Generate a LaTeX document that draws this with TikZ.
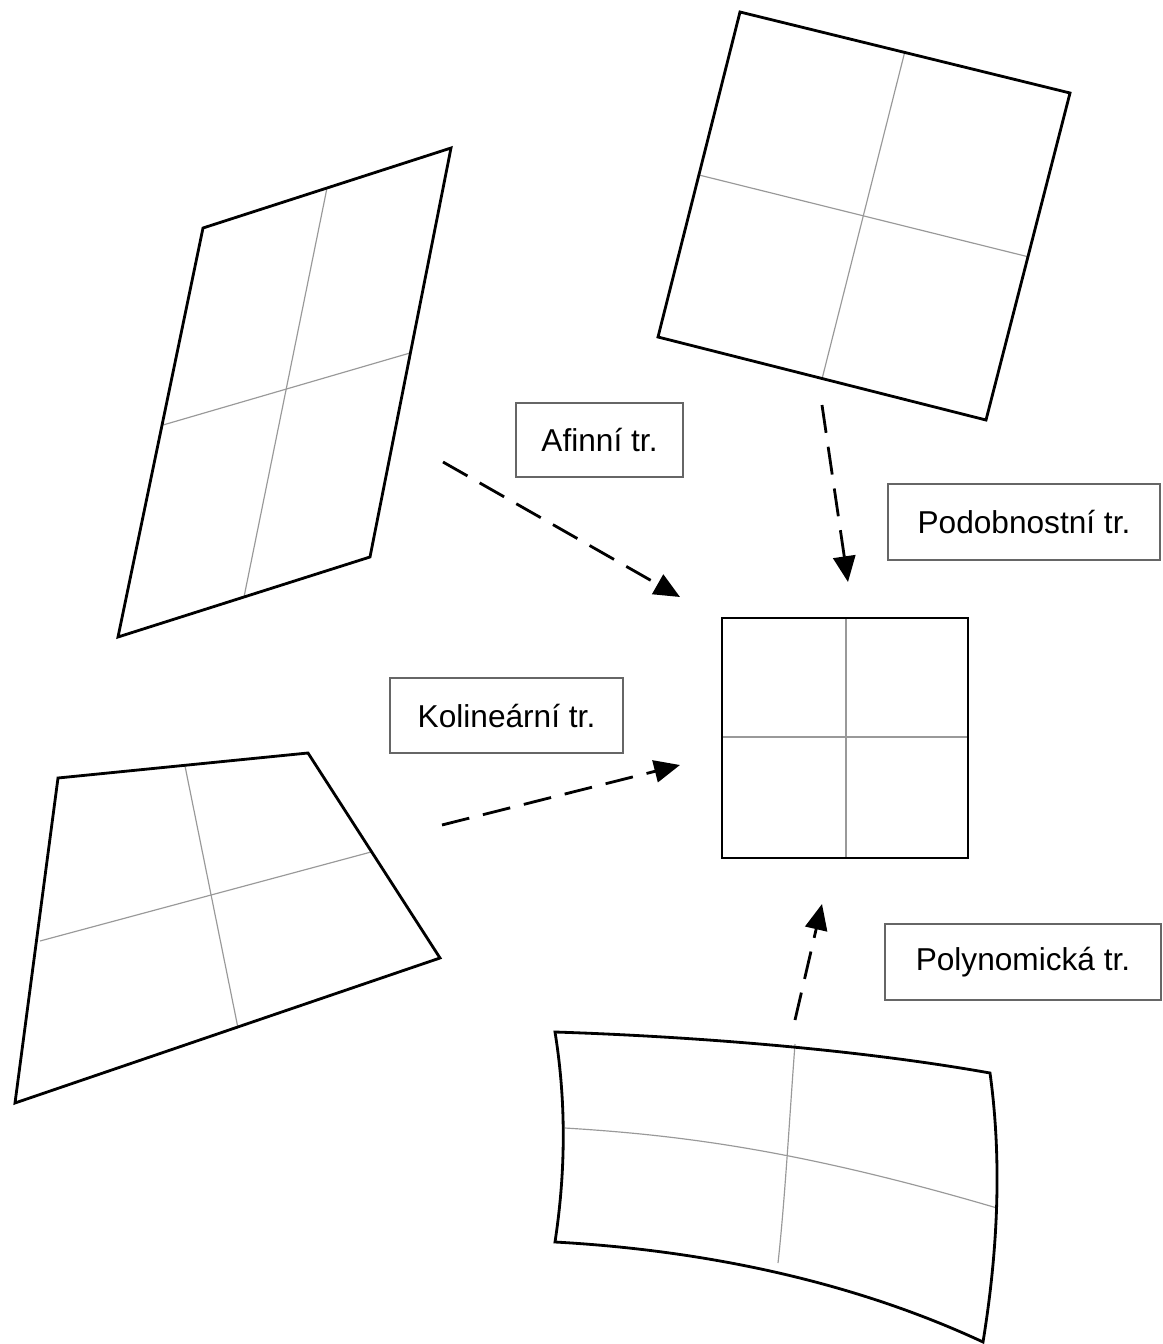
\documentclass[tikz,border=0pt]{standalone}
\usepackage{fontspec}
\setmainfont{Liberation Sans}
\usetikzlibrary{arrows.meta}
\begin{document}
\begin{tikzpicture}[x=0.03cm,y=-0.03cm,
  outer/.style={line width=2.4pt,black,line join=miter},
  inner/.style={line width=1pt,black!40},
  trarrow/.style={line width=2.4pt,dash pattern=on 24pt off 12pt,-{Triangle[length=22pt,width=19pt]}},
  lbl/.style={draw=black!60,line width=2pt,fill=white,font=\fontsize{27}{30}\selectfont,inner sep=0pt,anchor=center}]
\useasboundingbox (0,0) rectangle (1162,1344);
% top-right similarity square
\draw[inner] (905,51) -- (822,379);
\draw[inner] (699,175) -- (1029,257);
\draw[outer] (740,12) -- (1070,93) -- (986,420) -- (658,337) -- cycle;
% left parallelogram (affine)
\draw[inner] (327,188) -- (244,597);
\draw[inner] (163,425) -- (410,353);
\draw[outer] (203,228) -- (451,148) -- (370,557) -- (118,637) -- cycle;
% centre square
\draw[inner] (846,618) -- (846,858);
\draw[inner] (722,737) -- (968,737);
\draw[outer] (722,618) rectangle (968,858);
% bottom-left trapezoid (collinear)
\draw[inner] (185,766) -- (238,1028);
\draw[inner] (40,941) -- (371,852);
\draw[outer] (58,778) -- (308,753) -- (440,958) -- (15,1103) -- cycle;
% bottom polynomial
\draw[inner] (795,1044) .. controls (790,1110) and (785,1200) .. (778,1263);
\draw[inner] (565,1128) .. controls (680,1135) and (800,1150) .. (997,1208);
\draw[outer] (555,1032) .. controls (680,1036) and (850,1048) .. (990,1073)
  .. controls (1002,1160) and (998,1250) .. (983,1342)
  .. controls (850,1280) and (700,1250) .. (555,1242)
  .. controls (566,1170) and (566,1100) .. (555,1032) -- cycle;
% arrow end points
\coordinate (a1) at (443,462); \coordinate (a2) at (680,597);
\coordinate (p1) at (822,405); \coordinate (p2) at (848,582);
\coordinate (k1) at (442,825); \coordinate (k2) at (680,765);
\coordinate (y1) at (795,1020); \coordinate (y2) at (822,904);
\draw[trarrow] (a1) -- (a2);
\draw[trarrow] (p1) -- (p2);
\draw[trarrow] (k1) -- (k2);
\draw[trarrow] (y1) -- (y2);
% labels
\node[lbl,minimum width=167*0.03cm,minimum height=74*0.03cm] (la) at (599.5,440) {Afinní tr.};
\node[lbl,minimum width=272*0.03cm,minimum height=76*0.03cm] (lp) at (1024,522) {Podobnostní tr.};
\node[lbl,minimum width=233*0.03cm,minimum height=75*0.03cm] (lk) at (506.5,715.5) {Kolineární tr.};
\node[lbl,minimum width=276*0.03cm,minimum height=76*0.03cm] (ly) at (1023,962) {Polynomická tr.};
\end{tikzpicture}
\end{document}
